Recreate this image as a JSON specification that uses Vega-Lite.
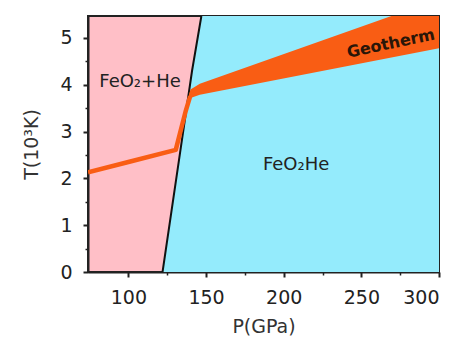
{
  "$schema": "https://vega.github.io/schema/vega-lite/v6.json",
  "width": 351,
  "height": 256,
  "autosize": {"type": "none"},
  "padding": {"left": 88, "top": 16, "right": 26, "bottom": 76},
  "background": "white",
  "view": {"fill": "#FFBFC7", "stroke": "#222", "strokeWidth": 2},
  "datasets": {
    "boundary": [
      {"P": 122, "T": 0},
      {"P": 133.5, "T": 2.6},
      {"P": 141, "T": 4.3},
      {"P": 147, "T": 5.47}
    ],
    "band": [
      {"P": 139, "lo": 3.7, "hi": 3.8},
      {"P": 140, "lo": 3.72, "hi": 3.9},
      {"P": 146, "lo": 3.79, "hi": 4.02},
      {"P": 300, "lo": 4.78, "hi": 5.83}
    ],
    "thin": [
      {"P": 74, "T": 2.13},
      {"P": 100, "T": 2.35},
      {"P": 130.5, "T": 2.61},
      {"P": 133.5, "T": 3.0},
      {"P": 137, "T": 3.45},
      {"P": 139.8, "T": 3.76}
    ],
    "labels": [
      {"P": 107.5, "T": 4.07, "text": "FeO₂+He"},
      {"P": 208, "T": 2.29, "text": "FeO₂He"}
    ],
    "geo": [
      {"P": 269, "T": 4.88, "text": "Geotherm"}
    ]
  },
  "resolve": {"axis": {"x": "independent", "y": "independent"}},
  "layer": [
    {
      "data": {"name": "boundary"},
      "mark": {"type": "area", "orient": "horizontal", "color": "#94EBFC", "clip": true},
      "encoding": {
        "y": {"field": "T", "type": "quantitative", "scale": {"domain": [0, 5.47], "nice": false, "zero": false},
          "axis": {"values": [0, 1, 2, 3, 4, 5], "title": "T(10³K)", "grid": false, "tickSize": 5, "tickWidth": 2, "tickColor": "#222", "domainColor": "#222", "domainWidth": 2,
            "labelFont": "DejaVu Sans", "labelFontSize": 19, "labelColor": "#222", "labelPadding": 11,
            "titleFont": "DejaVu Sans", "titleFontSize": 19, "titleFontWeight": "normal", "titleColor": "#333", "titlePadding": 18}},
        "x": {"field": "P", "type": "quantitative", "scale": {"domain": [74, 300], "nice": false, "zero": false},
          "axis": {"values": [100, 150, 200, 250, 300], "title": "P(GPa)", "grid": false, "tickSize": 5, "tickWidth": 2, "tickColor": "#222", "domainColor": "#222", "domainWidth": 2,
            "labelFont": "DejaVu Sans", "labelFontSize": 19, "labelColor": "#222", "labelPadding": 11,
            "titleFont": "DejaVu Sans", "titleFontSize": 19, "titleFontWeight": "normal", "titleColor": "#333", "titlePadding": 10}},
        "x2": {"datum": 300}
      }
    },
    {
      "data": {"name": "boundary"},
      "mark": {"type": "point", "opacity": 0},
      "encoding": {
        "y": {"field": "T", "type": "quantitative",
          "axis": {"orient": "left", "values": [0.5, 1.5, 2.5, 3.5, 4.5], "labels": false, "title": null, "grid": false, "domain": false, "tickSize": 3, "tickWidth": 1.5, "tickColor": "#222"}},
        "x": {"field": "P", "type": "quantitative",
          "axis": {"orient": "bottom", "values": [125, 175, 225, 275], "labels": false, "title": null, "grid": false, "domain": false, "tickSize": 3, "tickWidth": 1.5, "tickColor": "#222"}}
      }
    },
    {
      "data": {"name": "boundary"},
      "mark": {"type": "line", "color": "#111", "strokeWidth": 2, "clip": true},
      "encoding": {
        "x": {"field": "P", "type": "quantitative", "axis": null},
        "y": {"field": "T", "type": "quantitative", "axis": null}
      }
    },
    {
      "data": {"name": "band"},
      "mark": {"type": "area", "color": "#F95D14", "clip": true},
      "encoding": {
        "x": {"field": "P", "type": "quantitative", "axis": null},
        "y": {"field": "lo", "type": "quantitative", "axis": null},
        "y2": {"field": "hi"}
      }
    },
    {
      "data": {"name": "thin"},
      "mark": {"type": "line", "color": "#F95D14", "strokeWidth": 4.5, "clip": true, "strokeJoin": "round"},
      "encoding": {
        "x": {"field": "P", "type": "quantitative", "axis": null},
        "y": {"field": "T", "type": "quantitative", "axis": null}
      }
    },
    {
      "data": {"name": "labels"},
      "mark": {"type": "text", "font": "DejaVu Sans", "fontSize": 18, "color": "#222"},
      "encoding": {
        "x": {"field": "P", "type": "quantitative", "axis": null},
        "y": {"field": "T", "type": "quantitative", "axis": null},
        "text": {"field": "text"}
      }
    },
    {
      "data": {"name": "geo"},
      "mark": {"type": "text", "font": "DejaVu Sans", "fontSize": 16, "fontWeight": "bold", "angle": 348, "color": "#2a1608"},
      "encoding": {
        "x": {"field": "P", "type": "quantitative", "axis": null},
        "y": {"field": "T", "type": "quantitative", "axis": null},
        "text": {"field": "text"}
      }
    }
  ]
}
